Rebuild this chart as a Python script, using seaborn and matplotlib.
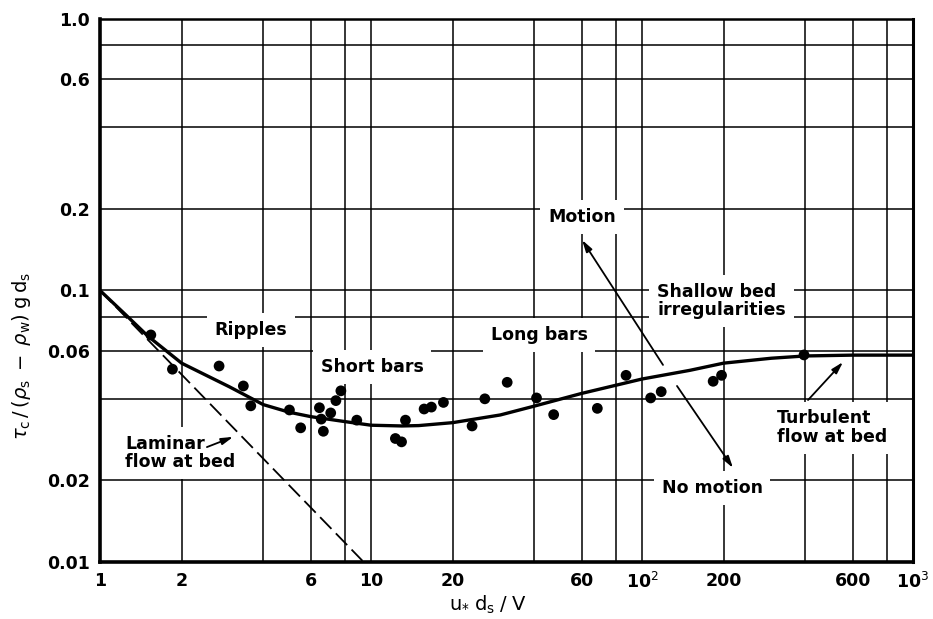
import numpy as np
import pandas as pd
import matplotlib
matplotlib.use("Agg")
import matplotlib.pyplot as plt
import seaborn as sns
from matplotlib.ticker import FixedLocator, FixedFormatter, NullFormatter

# ---------------- data ----------------
# Shields curve (critical shear stress)
curve_x = [1, 1.25, 1.5, 2, 3, 4, 5, 6, 8, 10, 13, 15, 20, 30, 40, 60, 100, 150, 200,
           300, 400, 600, 1000]
curve_y = [0.1, 0.081, 0.068, 0.054, 0.0442, 0.038, 0.0356, 0.0343, 0.0329, 0.0319,
           0.0317, 0.0318, 0.0326, 0.0348, 0.0375, 0.0418, 0.0472, 0.0508, 0.054,
           0.0563, 0.0574, 0.0578, 0.0578]

# laminar flow at bed (dashed)
laminar_x = [1, 9.3]
laminar_y = [0.1, 0.0101]

# experimental points
pts_x = [1.54, 1.85, 2.75, 3.38, 3.6, 5.0, 5.5, 6.45, 6.55, 6.67, 7.1, 7.42, 7.74, 8.86,
         12.3, 12.96, 13.4, 15.7, 16.7, 18.5, 23.6, 26.3, 31.8, 40.8, 47.2, 68.4, 87.3,
         107.6, 117.7, 183, 196.5, 396]
pts_y = [0.0686, 0.0513, 0.0527, 0.0445, 0.0376, 0.0363, 0.0312, 0.0370, 0.0336, 0.0303,
         0.0354, 0.0393, 0.0427, 0.0333, 0.0285, 0.0277, 0.0333, 0.0366, 0.0372, 0.0387,
         0.0317, 0.0399, 0.0459, 0.0402, 0.0349, 0.0368, 0.0487, 0.0402, 0.0424, 0.0463,
         0.0487, 0.0579]

x_tick_vals = [1, 2, 6, 10, 20, 60, 100, 200, 600, 1000]
x_tick_labels = ["1", "2", "6", "10", "20", "60", r"10$^2$", "200", "600", r"10$^3$"]
x_minor_vals = [4, 8, 40, 80, 400, 800]
y_tick_vals = [0.01, 0.02, 0.06, 0.1, 0.2, 0.6, 1.0]
y_tick_labels = ["0.01", "0.02", "0.06", "0.1", "0.2", "0.6", "1.0"]
y_minor_vals = [0.04, 0.08, 0.4, 0.8]

# ---------------- style ----------------
sns.set_style("white")
plt.rcParams["font.family"] = ["DejaVu Sans"]
plt.rcParams["mathtext.fontset"] = "dejavusans"

fig = plt.figure(figsize=(9.33, 6.19), dpi=100)
ax = fig.add_axes([0.1072, 0.0921, 0.8714, 0.8772])

curve_df = pd.DataFrame({"x": curve_x, "y": curve_y})
lam_df = pd.DataFrame({"x": laminar_x, "y": laminar_y})
pts_df = pd.DataFrame({"x": pts_x, "y": pts_y})

sns.lineplot(data=curve_df, x="x", y="y", ax=ax, color="black", lw=2.4,
             sort=False, estimator=None, zorder=2)
sns.lineplot(data=lam_df, x="x", y="y", ax=ax, color="black", lw=1.3,
             sort=False, estimator=None, zorder=2)
ax.get_lines()[-1].set_linestyle((0, (9, 3.5)))
sns.scatterplot(data=pts_df, x="x", y="y", ax=ax, color="black", s=60,
                edgecolor="none", zorder=3)

ax.set_xscale("log")
ax.set_yscale("log")
ax.set_xlim(1, 1000)
ax.set_ylim(0.01, 1.0)

ax.xaxis.set_major_locator(FixedLocator(x_tick_vals))
ax.xaxis.set_major_formatter(FixedFormatter(x_tick_labels))
ax.xaxis.set_minor_locator(FixedLocator(x_minor_vals))
ax.xaxis.set_minor_formatter(NullFormatter())
ax.yaxis.set_major_locator(FixedLocator(y_tick_vals))
ax.yaxis.set_major_formatter(FixedFormatter(y_tick_labels))
ax.yaxis.set_minor_locator(FixedLocator(y_minor_vals))
ax.yaxis.set_minor_formatter(NullFormatter())

ax.set_axisbelow(True)
ax.grid(True, which="both", color="black", lw=1.1)
ax.tick_params(which="both", length=0, labelsize=12.5, colors="black", pad=7)
for lab in ax.get_xticklabels() + ax.get_yticklabels():
    lab.set_fontweight("bold")

for side, lw in [("left", 2.6), ("bottom", 2.6), ("right", 2.2), ("top", 1.8)]:
    ax.spines[side].set_visible(True)
    ax.spines[side].set_color("black")
    ax.spines[side].set_linewidth(lw)

ax.set_xlabel(r"$\mathrm{u_{*}\;d_s\;/\;V}$", fontsize=14, color="black")
ax.set_ylabel(r"$\tau_\mathrm{c}\,/\,(\rho_\mathrm{s}\;-\;\rho_\mathrm{w})\;\mathrm{g\,d_s}$",
              fontsize=14, color="black")
ax.xaxis.set_label_coords(0.477, -0.058)
ax.yaxis.set_label_coords(-0.082, 0.38)

box = dict(boxstyle="square,pad=0.45", fc="white", ec="none")
tkw = dict(fontsize=12.5, fontweight="bold", color="black", zorder=1.5, bbox=box)

ax.text(3.61, 0.0715, "Ripples", ha="center", va="center", **tkw)
ax.text(10.1, 0.0523, "Short bars", ha="center", va="center", **tkw)
ax.text(41.7, 0.0686, "Long bars", ha="center", va="center", **tkw)
ax.text(60.1, 0.1865, "Motion", ha="center", va="center", **tkw)
ax.text(113.6, 0.0915, "Shallow bed\nirregularities", ha="left", va="center",
        linespacing=1.0, **tkw)
ax.text(315, 0.0312, "Turbulent\nflow at bed", ha="left", va="center",
        linespacing=1.05, **tkw)
ax.text(181.3, 0.0187, "No motion", ha="center", va="center", **tkw)
ax.text(1.237, 0.0252, "Laminar\nflow at bed", ha="left", va="center",
        linespacing=1.05, **tkw)

akw = dict(arrowstyle="-|>,head_length=0.7,head_width=0.2", color="black", lw=1.3,
           shrinkA=0, shrinkB=0)
ax.annotate("", xy=(60.1, 0.1535), xytext=(119.5, 0.0532), arrowprops=akw, zorder=4)
ax.annotate("", xy=(216.6, 0.0222), xytext=(134.6, 0.0445), arrowprops=akw, zorder=4)
ax.annotate("", xy=(551.5, 0.0545), xytext=(409.8, 0.0395), arrowprops=akw, zorder=4)
ax.annotate("", xy=(3.1, 0.0289), xytext=(2.48, 0.0265), arrowprops=akw, zorder=4)

fig.savefig("out.png", dpi=100, facecolor="white")
